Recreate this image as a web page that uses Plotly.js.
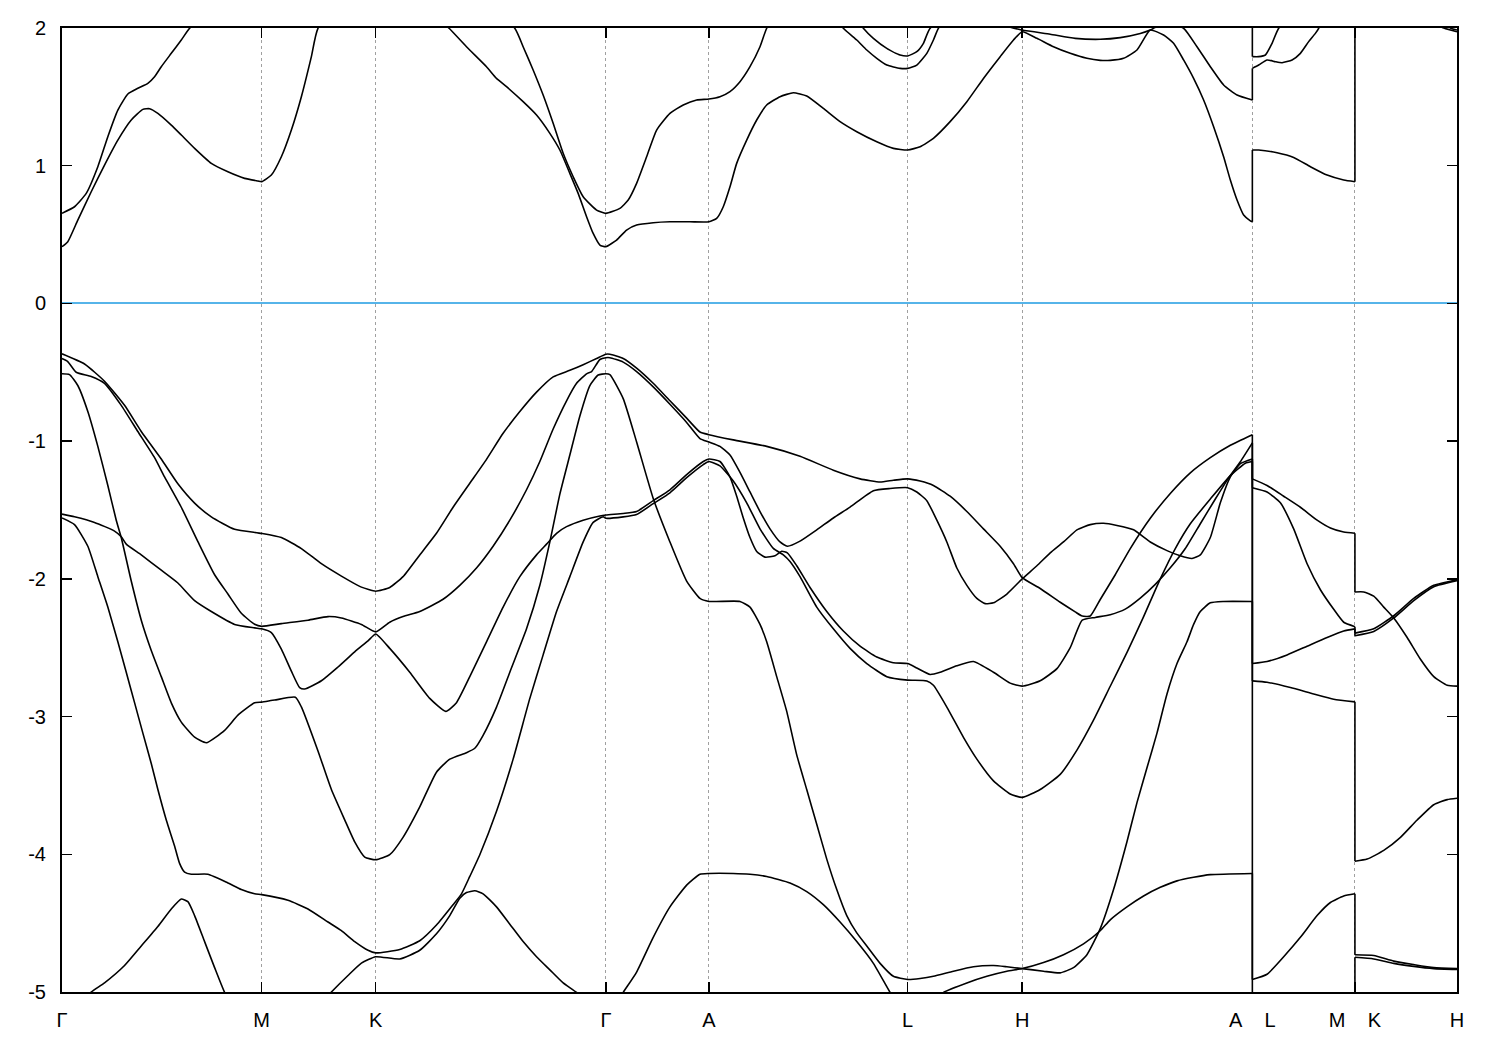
<!DOCTYPE html>
<html>
<head>
<meta charset="utf-8">
<script src="https://cdn.plot.ly/plotly-3.0.1.min.js"></script>
<style>html,body{margin:0;padding:0;background:#fff;}#plot{width:1500px;height:1050px;}</style>
</head>
<body>
<div id="plot"></div>
<script>
// k-path positions of the high-symmetry points and their labels
const kTicks = [0, 199.5, 313.5, 543.5, 646.5, 845, 959.5, 1189.5, 1292, 1394];
const kLabels = ['\u0393', 'M', 'K', '\u0393', 'A', 'L', 'H', 'A\u00a0\u00a0\u00a0\u00a0L', 'M\u00a0\u00a0\u00a0\u00a0K', 'H'];
const eTicks = [-5, -4, -3, -2, -1, 0, 1, 2];
const eLabels = ['-5', '-4', '-3', '-2', '-1', '0', '1', '2'];

// valence bands (energy in eV) along the path
const kV1 = [0,22.5,42.5,62.5,79.2,99.2,115.8,132.5,149.2,172.5,199.5, 219.2,239.2,259.2,279.2,299.2,313.5, 327.5,340.8,357.5,374.2,390.8,407.5,424.2,440.8,457.5,474.2,490.8,507.5,520.8,534.2,543.5, 547.5,560.8,574.2,590.8,607.5,624.2,637.5,646.5, 670.8,704.2,737.5,770.8,797.5,817.5,830.8,845, 857.5,870.8,887.5,904.2,920.8,937.5,950.8,959.5, 977.5,997.5,1012.5,1019.5,1027.5,1037.5,1052.5,1067.5,1087.5,1107.5,1127.5,1147.5,1167.5,1189.5, 1189.5,1204.2,1220.8,1237.5,1254.2,1267.5,1280.8,1292, 1292,1300.8,1310.8,1320.8,1330.8,1344.2,1357.5,1370.8,1384.2,1394];
const eV1 = [-0.366,-0.44,-0.565,-0.74,-0.93,-1.13,-1.31,-1.45,-1.55,-1.64,-1.67, -1.70,-1.78,-1.89,-1.98,-2.06,-2.09, -2.063,-1.984,-1.826,-1.669,-1.48,-1.306,-1.132,-0.943,-0.785,-0.644,-0.533,-0.486,-0.445,-0.40,-0.369, -0.369,-0.40,-0.47,-0.58,-0.707,-0.833,-0.934,-0.953, -0.991,-1.038,-1.11,-1.211,-1.274,-1.297,-1.284,-1.274, -1.29,-1.322,-1.40,-1.511,-1.637,-1.763,-1.89,-1.991, -2.07,-2.17,-2.24,-2.27,-2.27,-2.15,-1.97,-1.78,-1.56,-1.38,-1.23,-1.12,-1.03,-0.953, -1.274,-1.322,-1.40,-1.48,-1.574,-1.631,-1.66,-1.669, -2.095,-2.095,-2.126,-2.205,-2.284,-2.426,-2.584,-2.71,-2.773,-2.779];

const kV2 = [0,5.5,14.2,29.2,42.5,59.2,75.8,92.5,102.5,119.2,135.8,152.5,165.8,179.2,192.5,199.5, 219.2,245.8,265.8,279.2,299.2,313.5, 327.5,340.8,357.5,380.8,397.5,414.2,430.8,447.5,464.2,477.5,490.8,504.2,514.2,524.2,529.2,537.5,543.5, 547.5,560.8,574.2,590.8,607.5,624.2,637.5,646.5, 657.5,667.5,677.5,687.5,697.5,707.5,717.5,724.8,737.5,754.2,770.8,787.5,810.8,827.5,845, 854.2,864.2,874.2,884.2,894.2,904.2,914.2,922.5,930.8,944.2,959.5, 974.2,987.5,1000.8,1014.2,1027.5,1040.8,1054.2,1070.8,1087.5,1104.2,1117.5,1129.2,1137.5,1147.5,1157.5,1167.5,1177.5,1189.5, 1189.5,1204.2,1224.2,1244.2,1264.2,1280.8,1292, 1292,1310.8,1330.8,1350.8,1370.8,1394];
const eV2 = [-0.40,-0.42,-0.50,-0.53,-0.58,-0.74,-0.93,-1.12,-1.26,-1.48,-1.73,-1.97,-2.11,-2.25,-2.33,-2.345, -2.325,-2.30,-2.274,-2.284,-2.331,-2.385, -2.315,-2.274,-2.237,-2.148,-2.047,-1.921,-1.763,-1.574,-1.353,-1.148,-0.912,-0.707,-0.58,-0.511,-0.495,-0.407,-0.394, -0.394,-0.426,-0.495,-0.606,-0.732,-0.864,-0.981,-1.006, -1.038,-1.101,-1.227,-1.369,-1.511,-1.637,-1.732,-1.763,-1.726,-1.644,-1.558,-1.479,-1.36,-1.344,-1.338, -1.369,-1.432,-1.574,-1.732,-1.921,-2.047,-2.142,-2.18,-2.174,-2.11,-2.0, -1.905,-1.811,-1.732,-1.644,-1.606,-1.596,-1.612,-1.644,-1.732,-1.795,-1.833,-1.852,-1.826,-1.70,-1.448,-1.259,-1.164,-1.13, -2.615,-2.60,-2.552,-2.489,-2.426,-2.379,-2.363, -2.413,-2.382,-2.284,-2.158,-2.057,-2.013];

const kV3 = [0,7.5,15.8,25.8,35.8,45.8,54.2,59.2,69.2,79.2,89.2,99.2,109.2,119.2,132.5,144.2,162.5,175.8,192.5,199.5, 212.5,233.2,239.2,255.8,269.2,282.5,292.5,302.5,313.5, 327.5,340.8,357.5,374.2,387.5,404.2,412.5,420.8,434.2,447.5,464.2,477.5,487.5,497.5,507.5,517.5,527.5,535.8,543.5, 547.5,560.8,574.2,590.8,607.5,624.2,637.5,646.5, 677.5,687.5,697.5,704.2,714.2,724.2,734.2,744.2,754.2,764.2,774.2,784.2,794.2,804.2,817.5,830.8,845, 857.5,870.8,890.8,910.8,930.8,944.2,959.5, 980.8,997.5,1010.8,1024.2,1037.5,1050.8,1064.2,1074.2,1084.2,1094.2,1104.2,1114.2,1124.2,1130.8,1137.5,1147.5,1160.8,1189.5, 1189.5,1204.2,1220.8,1237.5,1254.2,1267.5,1280.8,1292, 1292,1310.8,1330.8,1350.8,1370.8,1394];
const eV3 = [-0.511,-0.517,-0.596,-0.785,-1.038,-1.322,-1.574,-1.70,-2.016,-2.30,-2.52,-2.71,-2.90,-3.04,-3.15,-3.19,-3.10,-2.99,-2.90,-2.895, -2.88,-2.86,-2.93,-3.25,-3.53,-3.75,-3.91,-4.02,-4.04, -4.003,-3.877,-3.656,-3.404,-3.309,-3.262,-3.23,-3.136,-2.931,-2.678,-2.363,-2.047,-1.732,-1.385,-1.101,-0.817,-0.596,-0.52,-0.511, -0.517,-0.691,-1.006,-1.416,-1.732,-2.016,-2.142,-2.164, -2.164,-2.205,-2.331,-2.457,-2.71,-2.962,-3.278,-3.53,-3.782,-4.035,-4.256,-4.445,-4.571,-4.666,-4.792,-4.886,-4.909, -4.902,-4.886,-4.849,-4.817,-4.808,-4.817,-4.83, -4.849,-4.861,-4.823,-4.729,-4.54,-4.256,-3.909,-3.625,-3.372,-3.12,-2.836,-2.615,-2.457,-2.331,-2.237,-2.174,-2.164,-2.164, -4.909,-4.871,-4.744,-4.603,-4.445,-4.35,-4.303,-4.287, -4.729,-4.735,-4.776,-4.801,-4.823,-4.83];

const kV4 = [0,12.5,32.5,52.5,59.2,64.2,79.2,99.2,115.8,132.5,149.2,172.5,192.5,199.5, 209.2,219.2,229.2,237.5,242.5,259.2,275.8,292.5,305.8,313.5, 327.5,347.5,367.5,383.5,394.2,407.5,424.2,440.8,457.5,474.2,484.2,494.2,504.2,520.8,537.5,543.5, 560.8,574.2,590.8,607.5,624.2,640.8,646.5, 657.5,667.5,674.2,680.8,687.5,694.2,702.5,712.5,719.2,724.8,734.2,747.5,764.2,780.8,797.5,814.2,830.8,845, 854.2,867.5,877.5,894.2,910.8,930.8,947.5,959.5, 977.5,994.5,1007.5,1019.5,1032.5,1047.5,1062.5,1077.5,1092.5,1107.5,1122.5,1137.5,1152.5,1165.5,1177.5,1189.5, 1189.5,1204.2,1217.5,1230.8,1244.2,1257.5,1270.8,1280.8,1292, 1292,1310.8,1330.8,1350.8,1370.8,1394];
const eV4 = [-1.53,-1.549,-1.59,-1.653,-1.694,-1.748,-1.826,-1.937,-2.03,-2.158,-2.237,-2.331,-2.356,-2.363, -2.39,-2.51,-2.67,-2.79,-2.80,-2.74,-2.64,-2.53,-2.45,-2.40, -2.505,-2.678,-2.868,-2.962,-2.899,-2.71,-2.457,-2.205,-1.984,-1.826,-1.748,-1.669,-1.621,-1.574,-1.543,-1.536, -1.525,-1.511,-1.432,-1.353,-1.243,-1.148,-1.13, -1.148,-1.259,-1.40,-1.558,-1.70,-1.801,-1.842,-1.833,-1.80,-1.811,-1.905,-2.063,-2.237,-2.379,-2.489,-2.568,-2.609,-2.615, -2.647,-2.694,-2.678,-2.631,-2.60,-2.678,-2.757,-2.779, -2.74,-2.65,-2.5,-2.3,-2.28,-2.26,-2.22,-2.14,-2.04,-1.92,-1.78,-1.6,-1.42,-1.27,-1.15,-1.013, -1.338,-1.369,-1.448,-1.637,-1.89,-2.079,-2.221,-2.315,-2.347, -2.394,-2.363,-2.268,-2.142,-2.047,-2.006];

const kV5 = [0,12.5,25.8,35.8,45.8,55.8,64.2,72.5,80.8,89.2,95.8,104.2,112.5,117.5,122.5,129.2,145.8,165.8,179.2,192.5,199.5, 225.8,245.8,265.8,279.2,292.5,305.8,313.5, 337.5,357.5,374.2,390.8,399.2,407.5,417.5,434.2,450.8,467.5,480.8,494.2,507.5,520.8,530.8,540.8,543.5, 560.8,574.2,590.8,607.5,624.2,640.8,646.5, 657.5,670.8,684.2,697.5,710.8,720.8,727.5,737.5,754.2,770.8,787.5,804.2,824.2,845, 864.2,870.8,884.2,900.8,914.2,930.8,947.5,959.5, 977.5,997.5,1014.5,1030.5,1047.5,1064.5,1080.5,1097.5,1112.5,1127.5,1147.5,1167.5,1182.5,1189.5, 1189.5,1204.2,1227.5,1250.8,1270.8,1292, 1292,1304.2,1320.8,1337.5,1354.2,1370.8,1384.2,1394];
const eV5 = [-1.558,-1.606,-1.763,-1.984,-2.205,-2.457,-2.678,-2.899,-3.12,-3.341,-3.53,-3.751,-3.94,-4.066,-4.129,-4.145,-4.145,-4.208,-4.256,-4.287,-4.293, -4.334,-4.397,-4.492,-4.555,-4.634,-4.697,-4.716, -4.691,-4.628,-4.514,-4.366,-4.287,-4.161,-4.003,-3.688,-3.309,-2.868,-2.552,-2.237,-1.984,-1.732,-1.59,-1.549,-1.56, -1.55,-1.533,-1.454,-1.375,-1.265,-1.17,-1.148, -1.18,-1.29,-1.448,-1.637,-1.779,-1.826,-1.874,-1.984,-2.205,-2.363,-2.505,-2.615,-2.71,-2.735, -2.741,-2.773,-2.931,-3.151,-3.309,-3.467,-3.562,-3.587, -3.53,-3.42,-3.24,-3.03,-2.78,-2.53,-2.28,-2.0,-1.78,-1.6,-1.42,-1.25,-1.16,-1.148, -2.741,-2.751,-2.789,-2.836,-2.874,-2.893, -4.05,-4.035,-3.972,-3.877,-3.751,-3.64,-3.603,-3.593];

const kV6 = [0,29.2,42.5,62.5,79.2,95.8,109.2,119.2,125.8,132.5,142.5,152.5,162.5,199.5, 237.5,269.2,285.8,299.2,313.5, 337.5,357.5,374.2,387.5,397.5,404.2,412.5,420.8,434.2,447.5,460.8,474.2,487.5,500.8,514.2,543.5, 560.8,574.2,590.8,607.5,624.2,637.5,646.5, 670.8,687.5,704.2,727.5,744.2,760.8,777.5,794.2,810.8,827.5,845, 862.5,880.8,904.2,924.2,944.2,959.5, 980.8,1000.8,1020.8,1037.5,1047.5,1064.2,1080.8,1097.5,1114.2,1130.8,1147.5,1189.5, 1189.5,1292, 1292,1310.8,1330.8,1350.8,1370.8,1394];
const eV6 = [-5.2,-5.0,-4.934,-4.808,-4.666,-4.524,-4.397,-4.325,-4.344,-4.445,-4.634,-4.823,-5.003,-5.5, -5.25,-5.0,-4.88,-4.79,-4.744, -4.76,-4.697,-4.577,-4.445,-4.319,-4.278,-4.265,-4.287,-4.382,-4.508,-4.634,-4.744,-4.839,-4.934,-5.003,-5.2, -5.003,-4.855,-4.603,-4.382,-4.224,-4.145,-4.139, -4.139,-4.145,-4.161,-4.208,-4.271,-4.366,-4.492,-4.634,-4.792,-5.003,-5.2, -5.1,-5.003,-4.934,-4.886,-4.849,-4.83, -4.786,-4.729,-4.65,-4.555,-4.476,-4.382,-4.303,-4.24,-4.193,-4.167,-4.148,-4.139, -5.2,-5.4, -4.748,-4.76,-4.792,-4.814,-4.83,-4.836];

// conduction bands
const kC1 = [0,5.8,15.8,29.2,42.5,55.8,69.2,80.8,87.5,95.8,109.2,119.2,132.5,149.2,165.8,182.5,195.8,199.5,209.2,219.2,229.2,239.2,249.2,255.8, 313.5, 386.8,404.2,424.2,434.2,444.2,460.8,474.2,487.5,497.5,507.5,515.8,524.2,530.8,537.5,543.5, 554.2,564.2,574.2,590.8,607.5,627.5,646.5, 654.2,660.8,667.5,674.2,684.2,694.2,704.2,717.5,730.8,744.2,760.8,777.5,794.2,814.2,830.8,845, 857.5,870.8,887.5,904.2,920.8,937.5,950.8,959.5, 974.2,990.8,1007.5,1024.2,1037.5,1047.5,1060.8,1074.2,1087.5,1100.8,1110.8,1120.8,1130.8,1140.8,1150.8,1160.8,1167.5,1174.2,1180.8,1187.5,1189.5, 1189.5,1195.8,1214.2,1230.8,1247.5,1264.2,1280.8,1292, 1292,1337.5,1380.8,1394];
const eC1 = [0.412,0.448,0.605,0.811,1.005,1.186,1.332,1.409,1.414,1.38,1.295,1.223,1.126,1.017,0.956,0.908,0.889,0.884,0.932,1.065,1.259,1.501,1.792,1.998, 2.5, 1.998,1.864,1.719,1.634,1.574,1.465,1.368,1.235,1.114,0.944,0.799,0.63,0.508,0.424,0.412, 0.46,0.533,0.569,0.586,0.593,0.593,0.593, 0.617,0.702,0.847,1.017,1.186,1.332,1.441,1.501,1.53,1.506,1.416,1.32,1.247,1.174,1.126,1.114, 1.138,1.199,1.32,1.465,1.634,1.792,1.913,1.973, 1.925,1.864,1.816,1.78,1.765,1.765,1.78,1.84,1.985,1.949,1.889,1.768,1.634,1.477,1.283,1.065,0.896,0.751,0.642,0.60,0.593, 1.114,1.114,1.094,1.06,0.993,0.932,0.896,0.884, 2.5,2.15,2.0,1.973];

const kC2 = [0,12.5,24.2,35.8,45.8,55.8,65.8,75.8,85.8,92.5,99.2,109.2,119.2,127.5, 199.5,313.5, 452.5,460.8,470.8,480.8,490.8,500.8,510.8,520.8,534.2,543.5, 557.5,565.8,574.2,584.2,594.2,607.5,620.8,634.2,646.5, 657.5,667.5,677.5,687.5,697.5,704.2, 737.5, 780.8,794.2,804.2,814.2,824.2,837.5,845, 854.2,864.2,870.8,875.8, 910, 942.5,959.5, 987.5,1012.5,1037.5,1057.5,1077.5,1087.5,1102.5,1120.8,1134.2,1147.5,1160.8,1174.2,1189.5, 1189.5,1195.8,1204.2,1212.5,1219.2,1229.2,1237.5,1245.8,1252.5,1255.8, 1292, 1292,1387.5,1394];
const eC2 = [0.654,0.702,0.799,0.993,1.211,1.404,1.521,1.562,1.598,1.646,1.719,1.816,1.913,1.998, 2.5,3.0, 1.998,1.864,1.695,1.513,1.308,1.09,0.92,0.775,0.678,0.654, 0.69,0.751,0.872,1.065,1.259,1.38,1.441,1.477,1.484, 1.501,1.538,1.61,1.719,1.864,1.998, 2.4, 1.998,1.913,1.84,1.78,1.731,1.707,1.707, 1.731,1.816,1.913,1.998, 2.3, 2.02,1.985, 1.955,1.925,1.918,1.93,1.96,1.985,2.04,1.998,1.864,1.719,1.586,1.513,1.477, 1.707,1.731,1.768,1.755,1.748,1.768,1.816,1.901,1.961,1.998, 2.6, 2.9,2.0,1.985];

const kC3 = [646.5, 737.5, 800.8,810.8,824.2,837.5,845,854.2,860.8,867.5, 959.5, 1189.5, 1189.5,1195.8,1202.5,1209.2,1215.8, 1292];
const eC3 = [2.6, 2.7, 1.998,1.925,1.852,1.804,1.797,1.828,1.889,1.998, 2.5, 2.3, 1.792,1.792,1.804,1.889,1.998, 2.6];

const bands = [[kV1,eV1],[kV2,eV2],[kV3,eV3],[kV4,eV4],[kV5,eV5],[kV6,eV6],[kC1,eC1],[kC2,eC2],[kC3,eC3]];

// each band: smooth runs between path discontinuities, straight jumps at the discontinuities
const traces = [];
const lineStyle = {color: '#000000', width: 1.6};
bands.forEach(([k, e]) => {
  let start = 0;
  for (let i = 1; i <= k.length; i++) {
    if (i === k.length || k[i] === k[i - 1]) {
      traces.push({x: k.slice(start, i), y: e.slice(start, i), type: 'scatter', mode: 'lines',
        line: Object.assign({shape: 'spline', smoothing: 0.5}, lineStyle), hoverinfo: 'skip', showlegend: false});
      if (i < k.length) {
        traces.push({x: [k[i - 1], k[i]], y: [e[i - 1], e[i]], type: 'scatter', mode: 'lines',
          line: lineStyle, hoverinfo: 'skip', showlegend: false});
      }
      start = i;
    }
  }
});

const font = {family: 'Liberation Sans, Arial, sans-serif', size: 20, color: '#000'};
const layout = {
  width: 1500, height: 1050,
  margin: {l: 62, r: 43, t: 28, b: 58, pad: 0},
  paper_bgcolor: '#fff', plot_bgcolor: '#fff',
  showlegend: false,
  font: font,
  xaxis: {
    range: [0, 1394], tickmode: 'array', tickvals: kTicks, ticktext: kLabels,
    ticks: 'inside', ticklen: 10, tickwidth: 1.5, tickcolor: '#000',
    showline: true, linecolor: '#000', linewidth: 2, mirror: 'ticks',
    showgrid: true, gridcolor: '#a0a0a0', gridwidth: 1, griddash: '3px,3px',
    zeroline: false, tickfont: font, ticklabelstandoff: 9, fixedrange: true
  },
  yaxis: {
    range: [-5, 2], tickmode: 'array', tickvals: eTicks, ticktext: eLabels,
    ticks: 'inside', ticklen: 10, tickwidth: 1.5, tickcolor: '#000',
    showline: true, linecolor: '#000', linewidth: 2, mirror: 'ticks',
    showgrid: false, zeroline: true, zerolinecolor: '#56b4e9', zerolinewidth: 2,
    tickfont: font, ticklabelstandoff: 10, fixedrange: true
  }
};
Plotly.newPlot('plot', traces, layout, {displayModeBar: false, staticPlot: true});
</script>
</body>
</html>
